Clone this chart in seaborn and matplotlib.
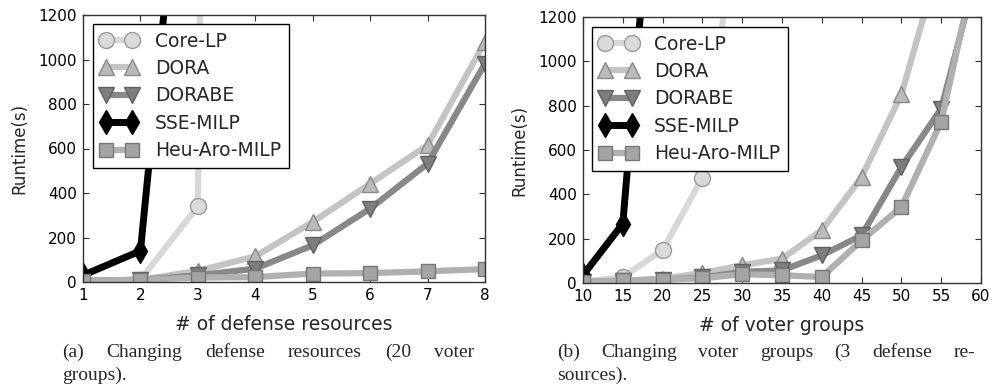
import matplotlib
matplotlib.use("Agg")
import matplotlib.pyplot as plt
import seaborn as sns
import pandas as pd

# ---- data -------------------------------------------------------------
methods = ["Core-LP", "DORA", "DORABE", "SSE-MILP", "Heu-Aro-MILP"]

resources = [1, 2, 3, 4, 5, 6, 7, 8]
res_core_lp = [5, 10, 340, 25000]
res_dora = [5, 10, 50, 115, 270, 442, 615, 1080]
res_dorabe = [5, 10, 30, 60, 165, 330, 532, 982]
res_sse = [30, 140, 2750]
res_heu = [5, 10, 20, 22, 38, 40, 48, 58]

groups = [10, 15, 20, 25, 30, 35, 40, 45, 50, 55, 60]
grp_core_lp = [5, 27, 148, 475, 1850]
grp_dora = [5, 10, 20, 45, 80, 110, 238, 478, 851, 1480]
grp_dorabe = [5, 10, 15, 25, 50, 57, 125, 215, 523, 787, 1475]
grp_sse = [35, 268, 2400]
grp_heu = [5, 12, 15, 22, 39, 35, 27, 192, 343, 727, 1540]


def long_form(xs, series):
    rows = []
    for name, vals in zip(methods, series):
        for x, v in zip(xs, vals):
            rows.append({"x": x, "runtime": v, "method": name})
    return pd.DataFrame(rows)


df_res = long_form(resources, [res_core_lp, res_dora, res_dorabe, res_sse, res_heu])
df_grp = long_form(groups, [grp_core_lp, grp_dora, grp_dorabe, grp_sse, grp_heu])

# ---- styles -----------------------------------------------------------
styles = {
    "Core-LP": dict(color="#d8d8d8", marker="o", mfc="#dadada", mec="#9a9a9a", ms=11.5, lw=4.5),
    "DORA": dict(color="#c4c4c4", marker="^", mfc="#bababa", mec="#8a8a8a", ms=11.5, lw=4.5),
    "DORABE": dict(color="#888888", marker="v", mfc="#7e7e7e", mec="#616161", ms=11.5, lw=4.5),
    "SSE-MILP": dict(color="#000000", marker="d", mfc="#000000", mec="#000000", ms=12, lw=5),
    "Heu-Aro-MILP": dict(color="#b0b0b0", marker="s", mfc="#a4a4a4", mec="#777777", ms=10.5, lw=4.5),
}

sns.set_style("ticks")
plt.rcParams.update({
    "font.family": ["DejaVu Sans"],
    "xtick.direction": "in",
    "ytick.direction": "in",
    "xtick.top": True,
    "ytick.right": True,
    "xtick.major.size": 4,
    "ytick.major.size": 4,
    "xtick.major.pad": 4.2,
    "ytick.major.pad": 4.5,
    "axes.edgecolor": "#333333",
    "axes.linewidth": 1.0,
    "xtick.color": "#333333",
    "ytick.color": "#333333",
    "xtick.labelcolor": "black",
    "ytick.labelcolor": "black",
    "xtick.labelsize": 11,
    "ytick.labelsize": 11,
})

fig = plt.figure(figsize=(9.94, 3.90), dpi=100)
ax1 = fig.add_axes([83 / 994, 1 - 282 / 390, 402 / 994, 267 / 390])
ax2 = fig.add_axes([583 / 994, 1 - 283 / 390, 398 / 994, 266 / 390])


def draw(ax, df, xlim, xticks, xlabel, legend_anchor):
    handles = []
    for name in methods:
        sub = df[df["method"] == name]
        st = styles[name]
        sns.lineplot(data=sub, x="x", y="runtime", ax=ax, color=st["color"],
                     marker=st["marker"], markerfacecolor=st["mfc"],
                     markeredgecolor=st["mec"], markersize=st["ms"],
                     markeredgewidth=1.0, linewidth=st["lw"], legend=False,
                     sort=True, estimator=None)
        handles.append(ax.lines[-1])
    ax.set_xlim(*xlim)
    ax.set_ylim(0, 1200)
    ax.set_xticks(xticks)
    ax.set_yticks(range(0, 1201, 200))
    ax.set_xlabel(xlabel, fontsize=13.5, labelpad=9)
    ax.set_ylabel("Runtime(s)", fontsize=12, labelpad=7)
    leg = ax.legend(handles, methods, loc="upper left", bbox_to_anchor=legend_anchor,
                    borderaxespad=0, numpoints=2, fontsize=13.5, frameon=True,
                    fancybox=False, edgecolor="black", framealpha=1,
                    handlelength=2.0, labelspacing=0.45, handletextpad=0.9,
                    borderpad=0.4)
    leg.get_frame().set_linewidth(1.0)


draw(ax1, df_res, (1, 8), resources, "# of defense resources", (0.025, 0.966))
draw(ax2, df_grp, (10, 60), groups, "# of voter groups", (0.023, 0.962))

# ---- justified captions ----------------------------------------------
cap_font = dict(family="Liberation Serif", size=14)
renderer = fig.canvas.get_renderer()
W, H = fig.bbox.width, fig.bbox.height


def justified(words, x0, x1, y):
    texts = [fig.text(0, 1 - y / H, w, ha="left", va="baseline", **cap_font) for w in words]
    widths = [t.get_window_extent(renderer).width for t in texts]
    gap = (x1 - x0 - sum(widths)) / max(len(words) - 1, 1)
    x = x0
    for t, w in zip(texts, widths):
        t.set_x(x / W)
        x += w + gap


justified("(a) Changing defense resources (20 voter".split(), 62, 474, 357)
fig.text(62 / W, 1 - 380 / H, "groups).", ha="left", va="baseline", **cap_font)
justified("(b) Changing voter groups (3 defense re-".split(), 557, 975, 357)
fig.text(557 / W, 1 - 380 / H, "sources).", ha="left", va="baseline", **cap_font)

fig.savefig("out.png", dpi=100)
